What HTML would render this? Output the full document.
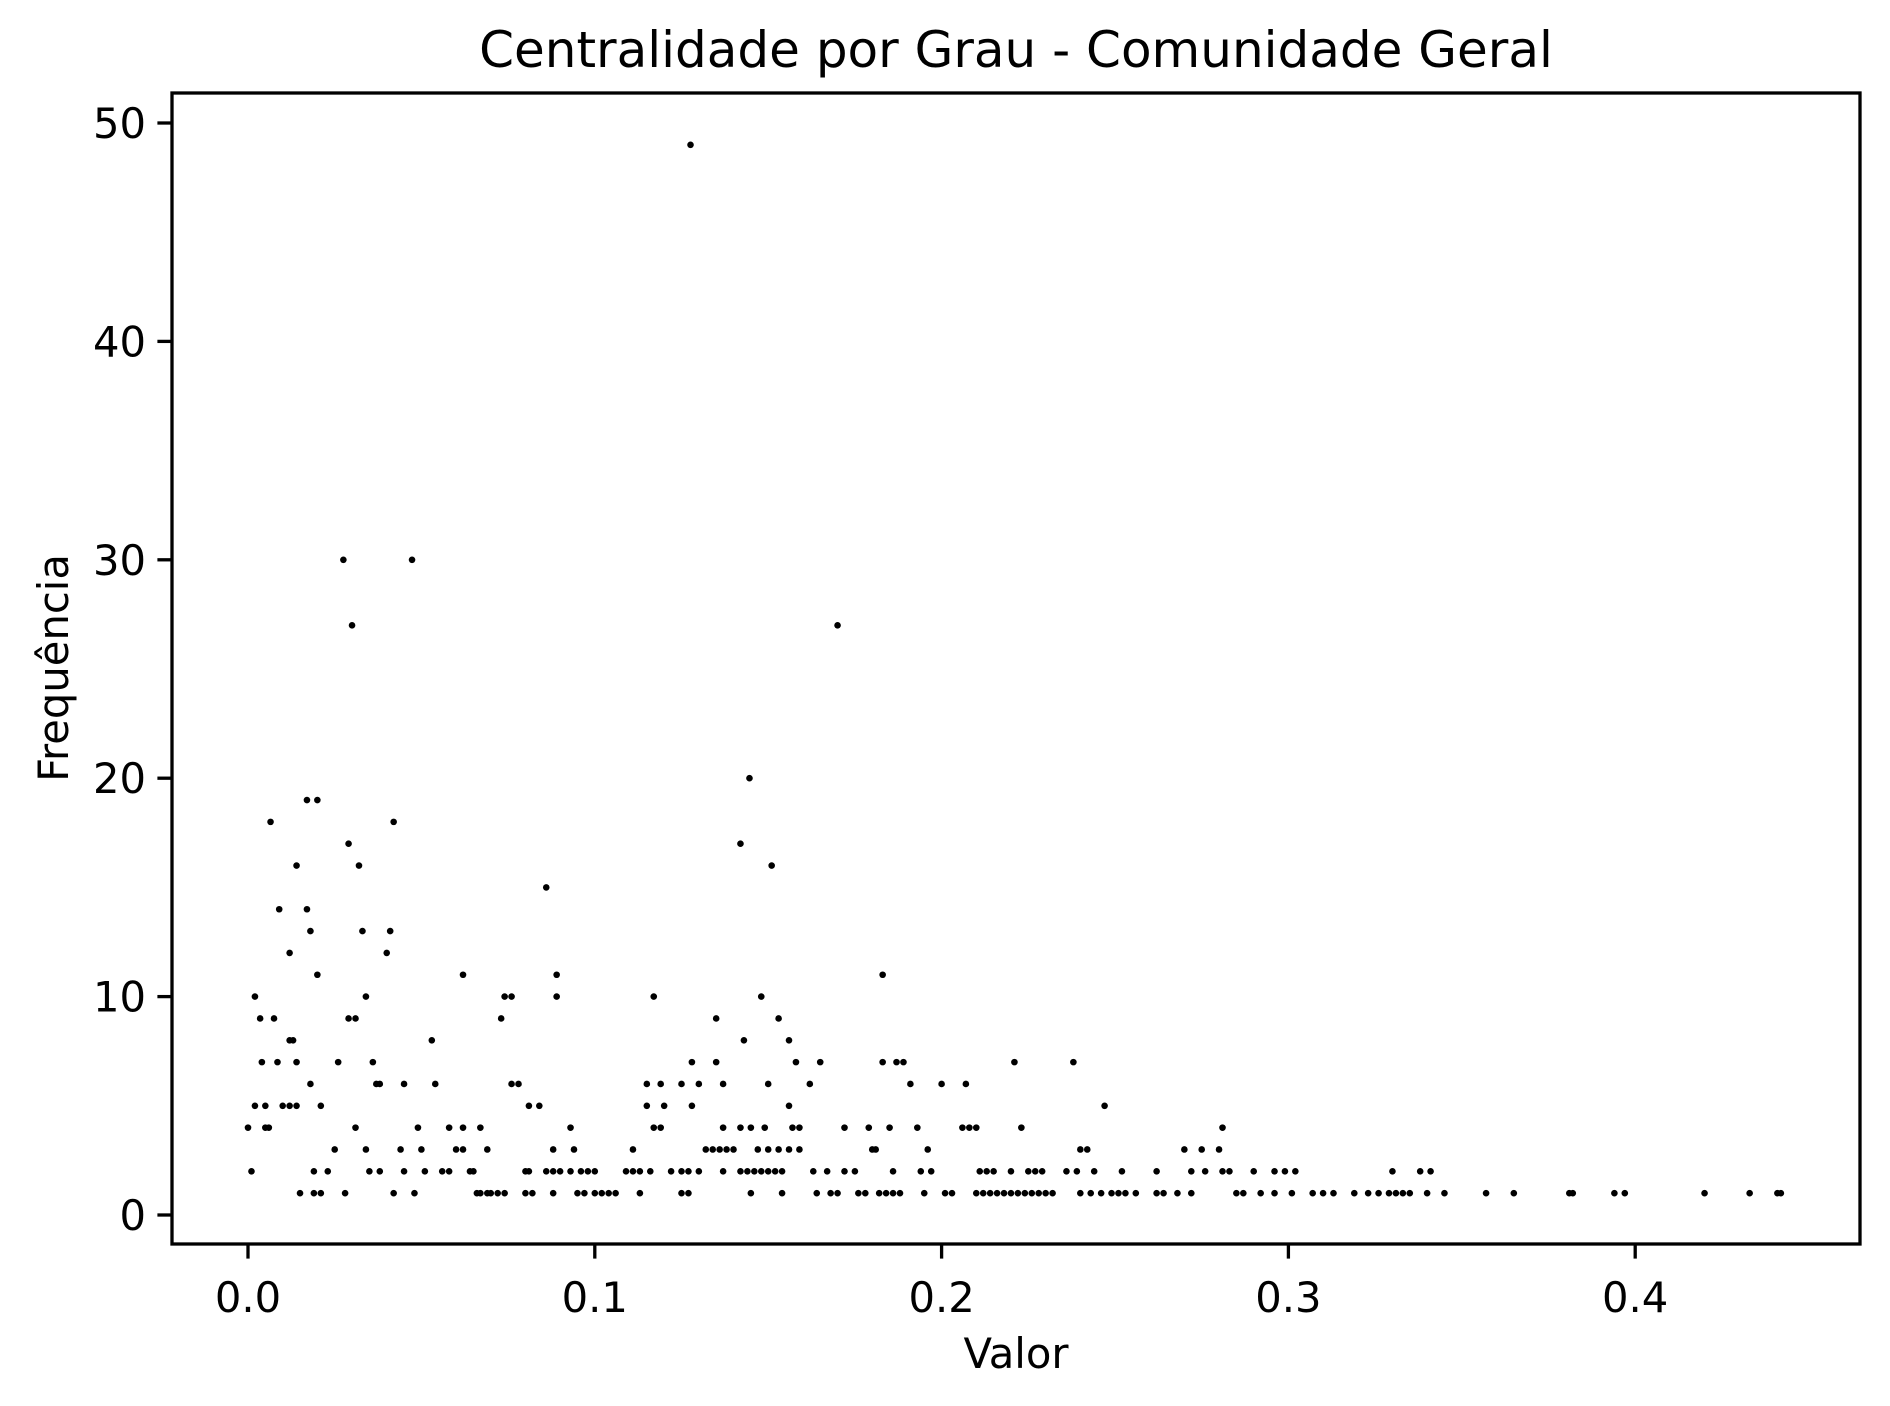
<!DOCTYPE html>
<html><head><meta charset="utf-8"><style>
html,body{margin:0;padding:0;background:#fff;}
svg{display:block;font-family:"DejaVu Sans","Liberation Sans",sans-serif;}
</style></head><body>
<svg id="chart" width="1890" height="1406" viewBox="0 0 1890 1406" xmlns="http://www.w3.org/2000/svg">
<rect width="1890" height="1406" fill="#fff"/>
<text x="1016" y="67" font-size="50" text-anchor="middle">Centralidade por Grau - Comunidade Geral</text>
<g id="marks"></g>
<g id="axes"></g>
<rect x="172" y="93" width="1688" height="1151" fill="none" stroke="#000" stroke-width="3.3"/>
<text x="1016" y="1368" font-size="41.7" text-anchor="middle">Valor</text>
<text x="0" y="0" font-size="41.7" text-anchor="middle" transform="translate(68,668) rotate(-90)">Frequência</text>
</svg>
<script>
const xTicks=[0,0.1,0.2,0.3,0.4];
const xTickLabels=["0.0","0.1","0.2","0.3","0.4"];
const yTicks=[0,10,20,30,40,50];
const yTickLabels=["0","10","20","30","40","50"];
const freqLevels=[49,30,30,27,27,20,19,19,18,18,17,17,16,16,16,15,14,14,13,13,13,12,12,11,11,11,11];
const freqLevelX=[0.1276,0.0275,0.0473,0.030,0.170,0.1446,0.017,0.020,0.0065,0.042,0.029,0.142,0.014,0.032,0.151,0.086,0.009,0.017,0.018,0.033,0.041,0.012,0.040,0.020,0.062,0.089,0.183];
const x10=[0.002,0.034,0.074,0.076,0.089,0.117,0.148];
const x9=[0.0035,0.0075,0.029,0.031,0.073,0.135,0.153];
const x8=[0.012,0.013,0.053,0.143,0.156];
const x7=[0.004,0.0085,0.014,0.026,0.036,0.128,0.135,0.158,0.165,0.183,0.187,0.189,0.221,0.238];
const x6=[0.018,0.037,0.038,0.045,0.054,0.076,0.078,0.115,0.119,0.125,0.130,0.137,0.150,0.162,0.191,0.200,0.207];
const x5=[0.002,0.005,0.010,0.012,0.014,0.021,0.081,0.084,0.115,0.120,0.128,0.156,0.247];
const x4=[0.000,0.005,0.006,0.031,0.049,0.058,0.062,0.067,0.093,0.117,0.119,0.137,0.142,0.145,0.149,0.157,0.159,0.172,0.179,0.185,0.193,0.206,0.208,0.210,0.223,0.281];
const x3=[0.025,0.034,0.044,0.050,0.060,0.062,0.069,0.088,0.094,0.111,0.132,0.134,0.136,0.138,0.140,0.147,0.150,0.153,0.156,0.159,0.180,0.181,0.196,0.240,0.242,0.270,0.275,0.280];
const x2=[0.001,0.019,0.023,0.035,0.038,0.045,0.051,0.056,0.058,0.064,0.065,0.080,0.081,0.086,0.088,0.090,0.093,0.096,0.098,0.100,0.109,0.111,0.113,0.116,0.122,0.125,0.127,0.130,0.137,0.142,0.144,0.146,0.148,0.150,0.152,0.154,0.163,0.167,0.172,0.175,0.186,0.194,0.197,0.211,0.213,0.215,0.220,0.225,0.227,0.229,0.236,0.239,0.244,0.252,0.262,0.272,0.276,0.281,0.283,0.290,0.296,0.299,0.302,0.330,0.338,0.341];
const x1=[0.015,0.019,0.021,0.028,0.042,0.048,0.066,0.067,0.069,0.070,0.072,0.074,0.080,0.082,0.088,0.095,0.097,0.100,0.102,0.104,0.106,0.113,0.125,0.127,0.145,0.154,0.164,0.168,0.170,0.176,0.178,0.182,0.184,0.186,0.188,0.195,0.201,0.203,0.210,0.212,0.214,0.216,0.218,0.220,0.222,0.224,0.226,0.228,0.230,0.232,0.240,0.243,0.246,0.249,0.251,0.253,0.256,0.262,0.264,0.268,0.272,0.285,0.287,0.292,0.296,0.301,0.307,0.310,0.313,0.319,0.323,0.326,0.329,0.331,0.333,0.335,0.340,0.345,0.357,0.365,0.381,0.382,0.394,0.397,0.420,0.433,0.441,0.442];

const NS="http://www.w3.org/2000/svg";
function xs(v){return 248+v*3468;}
function ys(v){return 1215-v*21.84;}
const marks=document.getElementById('marks');
function dot(x,y){
  const c=document.createElementNS(NS,'circle');
  c.setAttribute('cx',xs(x));c.setAttribute('cy',ys(y));c.setAttribute('r',3.3);c.setAttribute('fill','#000');
  
  
  marks.appendChild(c);
}
freqLevels.forEach((f,i)=>dot(freqLevelX[i],f));
[[x10,10],[x9,9],[x8,8],[x7,7],[x6,6],[x5,5],[x4,4],[x3,3],[x2,2],[x1,1]].forEach(([arr,f])=>arr.forEach(x=>dot(x,f)));

const axes=document.getElementById('axes');
xTicks.forEach((t,i)=>{
  const l=document.createElementNS(NS,'line');
  l.setAttribute('x1',xs(t));l.setAttribute('x2',xs(t));l.setAttribute('y1',1244);l.setAttribute('y2',1258.6);
  l.setAttribute('stroke','#000');l.setAttribute('stroke-width',3.3);
  
  
  axes.appendChild(l);
  const tx=document.createElementNS(NS,'text');
  tx.setAttribute('x',xs(t));tx.setAttribute('y',1312);tx.setAttribute('font-size',41.7);tx.setAttribute('text-anchor','middle');
  tx.textContent=xTickLabels[i];
  
  
  axes.appendChild(tx);
});
yTicks.forEach((t,i)=>{
  const l=document.createElementNS(NS,'line');
  l.setAttribute('x1',157.4);l.setAttribute('x2',172);l.setAttribute('y1',ys(t));l.setAttribute('y2',ys(t));
  l.setAttribute('stroke','#000');l.setAttribute('stroke-width',3.3);
  
  
  axes.appendChild(l);
  const tx=document.createElementNS(NS,'text');
  tx.setAttribute('x',146);tx.setAttribute('y',ys(t)+15);tx.setAttribute('font-size',41.7);tx.setAttribute('text-anchor','end');
  tx.textContent=yTickLabels[i];
  
  
  axes.appendChild(tx);
});
</script>
</body></html>
